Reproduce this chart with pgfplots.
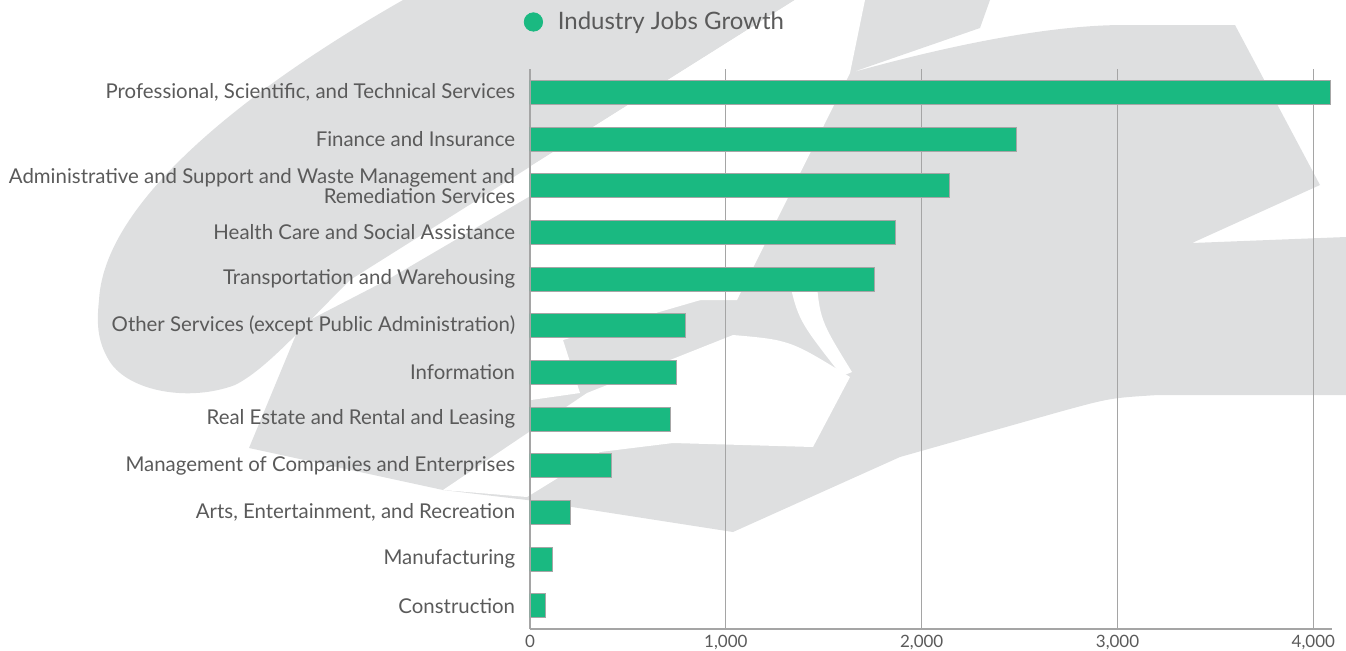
\documentclass[border=0pt]{standalone}
\usepackage{pgfplots}
\pgfplotsset{compat=1.18}
\usepackage{fontspec}
\setmainfont{Lato}
\definecolor{barc}{RGB}{26,185,129}
\definecolor{bgc}{RGB}{222,223,224}
\definecolor{txt}{RGB}{90,90,90}
\definecolor{gridc}{RGB}{165,165,165}
\begin{document}
\begin{tikzpicture}
\useasboundingbox (0,0) rectangle (673pt,-325pt);
\begin{scope}[x=0.5pt,y=-0.5pt]
% left blob
\fill[bgc] (403,0) -- (795,0) -- (350,280) .. controls (300,330) and (265,370) .. (235,385)
  .. controls (190,402) and (130,392) .. (110,362) .. controls (96,340) and (97,320) .. (99,300)
  .. controls (105,190) and (280,70) .. (403,0) -- cycle;
% central mass
\fill[bgc] (865,0) -- (990,0) -- (980,28) -- (850,73) .. controls (950,45) and (1050,25) .. (1124,25)
  -- (1235,25) -- (1320,185) -- (1192,243) -- (1346,237) -- (1346,395) -- (1158,395)
  .. controls (1110,398) .. (1059,412) -- (900,457) -- (733,532) -- (527,500) -- (443,490)
  -- (249,448) -- (300,325) -- (387,280) -- cycle;
% white cuts
\fill[white] (795,0) -- (865,0) -- (850,73) -- (737,300) -- (531,300) -- (531,166) -- cycle;
\fill[white] (443,490) -- (587,393) -- (733,335) .. controls (790,340) .. (850,377) -- (813,447)
  -- (673,443) -- (600,452) -- (527,497) -- cycle;
\fill[white] (531,290) -- (735,290) -- (563,340) -- (580,393) -- (531,400) -- cycle;
\fill[white] (788,275) .. controls (798,320) .. (842,376) -- (852,372) .. controls (820,320) .. (816,275) -- cycle;
\end{scope}
\begin{axis}[
  at={(265pt,-314.5pt)}, anchor=south west,
  scale only axis, width=401pt, height=280pt,
  xbar, bar width=12pt,
  xmin=0, xmax=4095, ymin=-0.5, ymax=11.5,
  ytick={0,...,11},
  yticklabels={Construction, Manufacturing, {Arts, Entertainment, and Recreation},
    Management of Companies and Enterprises, Real Estate and Rental and Leasing,
    Information, Other Services (except Public Administration),
    Transportation and Warehousing, Health Care and Social Assistance,
    {Administrative and Support and Waste Management and\\Remediation Services},
    Finance and Insurance, {Professional, Scientific, and Technical Services}},
  yticklabel style={align=right, font=\fontsize{10.2}{10}\selectfont, text=txt, inner sep=0pt, xshift=-3pt},
  xtick={0,1000,2000,3000,4000},
  xticklabel style={font=\fontsize{8.5}{10}\selectfont, text=txt, inner sep=0pt, yshift=-3pt},
  /pgf/number format/assume math mode=true,
  /pgf/number format/1000 sep={,},
  xmajorgrids, major grid style={gridc, line width=0.6pt},
  axis x line*=bottom, axis y line*=left,
  axis line style={-, draw=gridc, line width=0.8pt},
  major tick style={draw=none},
  legend entries={Industry Jobs Growth},
  legend style={draw=none, fill=none, at={(0.157,1.084)}, anchor=center,
    font=\fontsize{12}{14}\selectfont, text=txt},
  legend image code/.code={\fill[barc] (0.2cm,0cm) circle (4.6pt); \path (0.2cm+10pt,0cm);},
]
\addplot[fill=barc, draw=gray!70, line width=0.4pt] coordinates {
(77,0) (112,1) (204,2) (418,3) (719,4) (745,5) (796,6) (1760,7) (1867,8) (2140,9) (2485,10) (4085,11)};
\end{axis}
\end{tikzpicture}
\end{document}
